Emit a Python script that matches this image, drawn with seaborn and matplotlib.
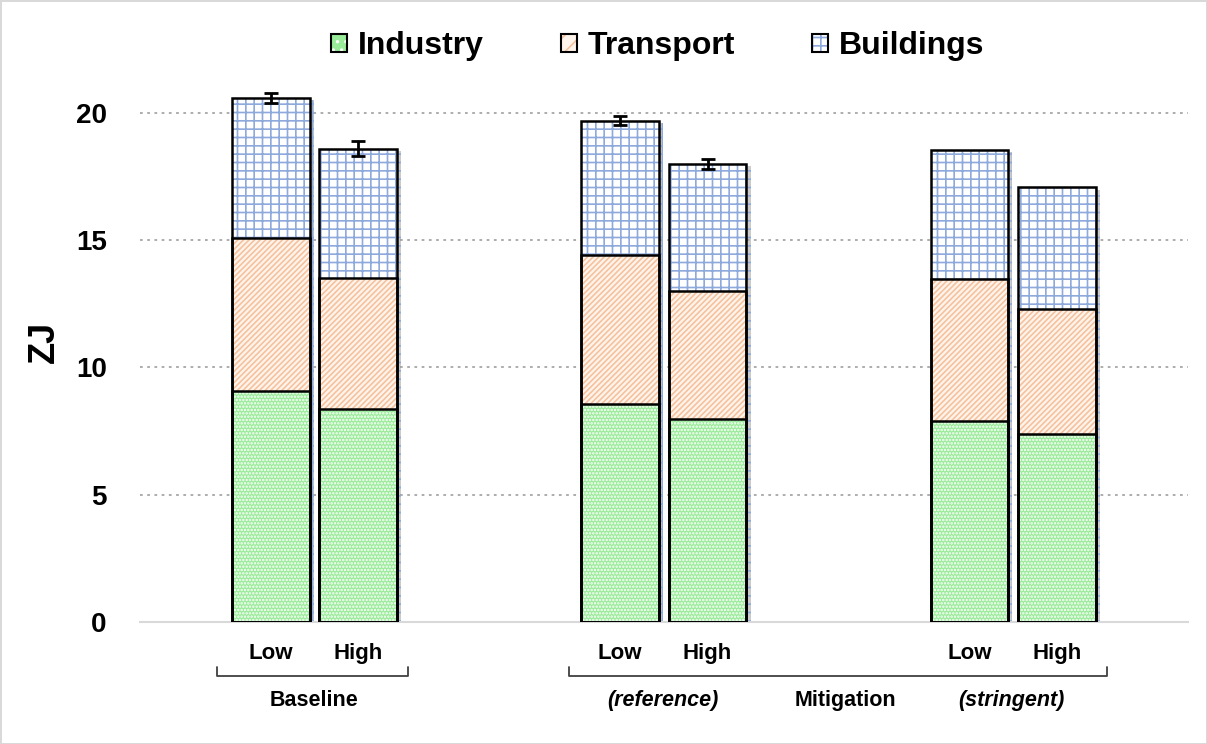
import matplotlib.pyplot as plt
import matplotlib.patheffects as pe
from matplotlib.patches import Patch, Rectangle
import seaborn as sns
import numpy as np

sns.set_style("white")
plt.rcParams['font.family'] = ['Liberation Sans', 'DejaVu Sans']
plt.rcParams['font.weight'] = 'bold'
plt.rcParams['text.color'] = 'black'
plt.rcParams['xtick.color'] = 'black'
plt.rcParams['ytick.color'] = 'black'
plt.rcParams['axes.labelcolor'] = 'black'
plt.rcParams['hatch.linewidth'] = 1.2

# data (ZJ)
positions = [0, 1, 4, 5, 8, 9]
levels = ["Low", "High", "Low", "High", "Low", "High"]
industry = [9.08, 8.37, 8.57, 7.98, 7.90, 7.39]
transport = [6.01, 5.15, 5.85, 5.02, 5.58, 4.91]
buildings = [5.50, 5.07, 5.27, 5.00, 5.07, 4.79]
errors = [0.20, 0.30, 0.17, 0.20, 0.0, 0.0]
yticks = [0, 5, 10, 15, 20]

ind = np.array(industry)
tra = ind + np.array(transport)
tot = tra + np.array(buildings)

fig, ax = plt.subplots(figsize=(12.07, 7.44), dpi=100)
fig.patch.set_edgecolor('#D9D9D9')
fig.patch.set_linewidth(2)

# stacked by overlapping cumulative totals
layers = [
    (tot, '#FFFFFF', '#8EA9DB', '++'),
    (tra, '#FEF4EC', '#F6C29E', '//////'),
    (ind, '#99EB99', '#FFFFFF', '.....'),
]
for vals, face, hcol, hatch in layers:
    sns.barplot(x=positions, y=vals, native_scale=True, width=0.89, color=face,
                saturation=1, errorbar=None, edgecolor=hcol, hatch=hatch,
                linewidth=0, ax=ax, zorder=2)

bars = list(ax.patches)
for p in bars[:6]:
    p.set_path_effects([pe.SimplePatchShadow(offset=(3, -2), shadow_rgbFace='#999999', alpha=0.5), pe.Normal()])
for p in bars:
    ax.add_patch(Rectangle(p.get_xy(), p.get_width(), p.get_height(), fill=False,
                           edgecolor='black', linewidth=1.8, zorder=3))

# error bars
for x, y, e in zip(positions, tot, errors):
    if e > 0:
        ax.errorbar(x, y, yerr=e, color='black', capsize=5, elinewidth=2,
                    capthick=2, zorder=4)

ax.set_xlim(-1.5, 10.5)
ax.set_ylim(0, 22)
ax.set_yticks(yticks)
ax.set_yticklabels([str(t) for t in yticks], fontsize=20, fontweight='bold')
ax.set_xticks(positions)
ax.set_xticklabels(levels, fontsize=16, fontweight='bold')
ax.tick_params(axis='x', length=0, pad=15)
ax.tick_params(axis='y', length=0, pad=24)
ax.set_ylabel("ZJ", fontsize=26, fontweight='bold', labelpad=10)
ax.set_xlabel("")

for s in ax.spines.values():
    s.set_visible(False)
ax.spines['bottom'].set_visible(True)
ax.spines['bottom'].set_color('#D9D9D9')
ax.spines['bottom'].set_linewidth(1.5)
for t in yticks[1:]:
    ax.axhline(t, color='#A6A6A6', linestyle=(0, (1.5, 2.5)), linewidth=1.3, zorder=1)

# group brackets
trans = ax.get_xaxis_transform()
for x0, x1 in [(-0.62, 1.57), (3.41, 9.58)]:
    ax.plot([x0, x0, x1, x1], [-0.08, -0.097, -0.097, -0.08], color='#404040',
            linewidth=1.3, transform=trans, clip_on=False)
ax.text(0.49, -0.14, "Baseline", transform=trans, ha='center', va='center', fontsize=15.5)
ax.text(4.49, -0.14, "(reference)", transform=trans, ha='center', va='center',
        fontsize=15.5, style='italic')
ax.text(6.575, -0.14, "Mitigation", transform=trans, ha='center', va='center', fontsize=15.5)
ax.text(8.48, -0.14, "(stringent)", transform=trans, ha='center', va='center',
        fontsize=15.5, style='italic')

# legend
names = ["Industry", "Transport", "Buildings"]
handles = []
for (vals, face, hcol, hatch), n in zip(layers[::-1], names):
    handles.append((Patch(facecolor=face, edgecolor=hcol, hatch=hatch[:2], linewidth=0),
                    Patch(facecolor='none', edgecolor='black', linewidth=1.5)))
fig.legend(handles, names, loc='center', bbox_to_anchor=(0.545, 0.938), ncol=3,
           frameon=False, fontsize=23, handlelength=0.5, handleheight=0.5,
           handletextpad=0.35, columnspacing=2.4)

plt.subplots_adjust(left=0.116, right=0.984, bottom=0.164, top=0.917)
plt.savefig("out.png", dpi=100)
